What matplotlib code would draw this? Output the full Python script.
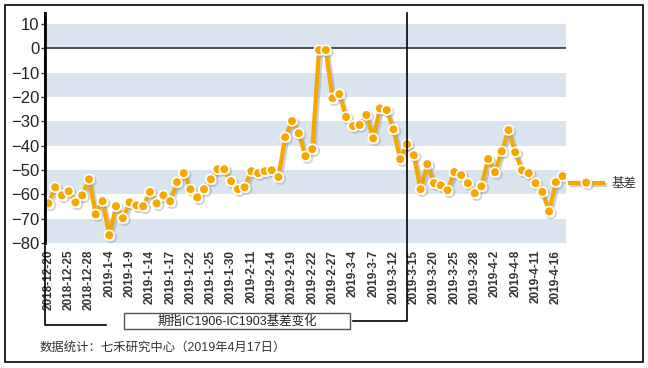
import matplotlib
matplotlib.use("Agg")
import matplotlib.pyplot as plt
import matplotlib.patheffects as pe
from matplotlib.lines import Line2D
from matplotlib.patches import Rectangle

plt.rcParams['font.family'] = ['Liberation Sans', 'Noto Sans CJK SC', 'DejaVu Sans']

# 基差数据 (每个交易日)
basis = [-63.7, -57.1, -60.4, -58.7, -63.3, -60.4, -53.8, -68.2, -62.8, -76.8,
         -64.9, -69.8, -63.3, -64.5, -64.9, -59.0, -63.7, -60.4, -62.8, -55.0,
         -51.3, -57.9, -61.2, -57.9, -53.8, -49.7, -49.7, -54.6, -57.9, -57.1,
         -50.5, -51.3, -50.5, -50.1, -52.9, -36.5, -29.9, -34.9, -44.3, -41.4,
         -0.7, -0.7, -20.5, -18.8, -28.2, -31.9, -31.5, -27.4, -37.0, -24.7,
         -25.4, -33.3, -45.5, -39.4, -43.9, -57.9, -47.6, -55.4, -56.3, -58.3,
         -50.9, -52.1, -55.4, -59.5, -56.7, -45.5, -50.9, -42.3, -33.6, -42.7,
         -50.1, -51.3, -55.4, -59.0, -67.0, -55.0, -52.5]
date_labels = ['2018-12-20', '2018-12-25', '2018-12-28', '2019-1-4', '2019-1-9',
               '2019-1-14', '2019-1-17', '2019-1-22', '2019-1-25', '2019-1-30',
               '2019-2-11', '2019-2-14', '2019-2-19', '2019-2-22', '2019-2-27',
               '2019-3-4', '2019-3-7', '2019-3-12', '2019-3-15', '2019-3-20',
               '2019-3-25', '2019-3-28', '2019-4-2', '2019-4-8', '2019-4-11',
               '2019-4-16']
label_step = 3
split_idx = 53  # 2019-3-15

W, H = 648, 368
def fx(x):
    return x / W
def fy(y):
    return 1 - y / H

fig = plt.figure(figsize=(W / 100, H / 100), dpi=100)
ax = fig.add_axes([fx(45), fy(243), fx(566) - fx(45), fy(24) - fy(243)])

orange = '#F5A800'
x = list(range(len(basis)))

for lo in [0, -20, -40, -60, -80]:
    ax.axhspan(lo, lo + 10, color='#DAE4EF', lw=0, zorder=0)
ax.axhline(0, color='#333333', lw=1.2, zorder=1)

ax.plot(x, basis, color=orange, lw=3, marker='o', markersize=7,
        markerfacecolor=orange, markeredgecolor='white', markeredgewidth=1.2,
        label='基差', zorder=3,
        path_effects=[pe.SimpleLineShadow(offset=(1.5, -1.5), shadow_color='#9AA0A8', alpha=0.5),
                      pe.Normal()])

ax.set_xlim(-0.5, len(basis) - 0.5)
ax.set_ylim(-80, 10)
ax.set_yticks(range(-80, 11, 10))
ax.tick_params(axis='y', labelsize=12, length=3, width=1, color='#333333',
               labelcolor='#222222', pad=1)
ax.set_xticks(range(0, len(basis), label_step))
ax.set_xticklabels(date_labels, rotation=90, fontsize=8.5, fontweight='bold',
                   color='#333333')
ax.tick_params(axis='x', length=0, pad=5)
for s in ['top', 'right', 'bottom', 'left']:
    ax.spines[s].set_visible(False)

leg = ax.legend(loc='center left', bbox_to_anchor=(fx(570), fy(184)),
                bbox_transform=fig.transFigure, frameon=False, fontsize=9,
                handlelength=2.6, handletextpad=0.7, borderpad=0, borderaxespad=0)
for t in leg.get_texts():
    t.set_color('#333333')

# bracket / divider lines
fig.add_artist(Line2D([fx(45), fx(45), fx(106)], [fy(13), fy(325), fy(325)],
                      color='black', lw=1.2))
fig.add_artist(Line2D([fx(45), fx(45)], [fy(13), fy(243)], color='black', lw=2))
sx = ax.transData.transform((split_idx, 0))[0]
sx_fig = fig.transFigure.inverted().transform((sx, 0))[0]
fig.add_artist(Line2D([sx_fig, sx_fig, fx(353)], [fy(13), fy(321), fy(321)],
                      color='black', lw=1.2))

# title box
fig.add_artist(Rectangle((fx(124), fy(329)), fx(350) - fx(124), fy(313) - fy(329),
                         transform=fig.transFigure, facecolor='white',
                         edgecolor='#555555', lw=1))
fig.text(fx(237), fy(321), '期指IC1906-IC1903基差变化', ha='center', va='center',
         fontsize=9, color='#222222')

fig.text(fx(40), fy(348), '数据统计：七禾研究中心（2019年4月17日）', ha='left',
         va='center', fontsize=8.9, color='#333333')

fig.add_artist(Rectangle((fx(5), fy(362)), fx(643) - fx(5), fy(5) - fy(362),
                         transform=fig.transFigure, facecolor='none',
                         edgecolor='black', lw=1.2))

fig.savefig('out.png', dpi=100)
